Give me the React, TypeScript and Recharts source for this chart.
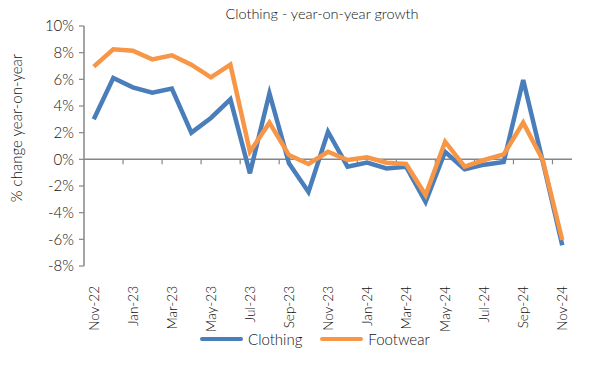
import React from 'react';
import { LineChart, Line, XAxis, YAxis, ReferenceLine } from 'recharts';

const months = ['Nov-22','Dec-22','Jan-23','Feb-23','Mar-23','Apr-23','May-23','Jun-23','Jul-23','Aug-23','Sep-23','Oct-23','Nov-23','Dec-23','Jan-24','Feb-24','Mar-24','Apr-24','May-24','Jun-24','Jul-24','Aug-24','Sep-24','Oct-24','Nov-24'];
const clothing = [3.0, 6.1, 5.4, 5.0, 5.3, 2.0, 3.1, 4.5, -1.05, 4.95, -0.3, -2.45, 2.07, -0.55, -0.25, -0.68, -0.55, -3.2, 0.57, -0.75, -0.4, -0.2, 5.95, -0.15, -6.45];
const footwear = [6.95, 8.25, 8.15, 7.5, 7.8, 7.1, 6.15, 7.1, 0.57, 2.75, 0.32, -0.35, 0.57, -0.05, 0.15, -0.25, -0.35, -2.68, 1.32, -0.55, -0.05, 0.37, 2.75, -0.05, -6.05];
const yTicks = [-8, -6, -4, -2, 0, 2, 4, 6, 8, 10];

const data = months.map((m, i) => ({ month: m, Clothing: clothing[i], Footwear: footwear[i] }));

const FONT = 'Lato, "Open Sans", sans-serif';
const AXIS = '#868686';
const BLUE = '#4A7EBB';
const ORANGE = '#F79646';
const TEXT = '#111';

const XTick = (props: any) => {
  const { x, y, payload } = props;
  return (
    <text
      x={x}
      y={y + 12}
      transform={`rotate(-90, ${x}, ${y + 12})`}
      textAnchor="end"
      dominantBaseline="central"
      fontFamily={FONT}
      fontSize={13.5}
      fontWeight={300}
      fill={TEXT}
    >
      {payload.value}
    </text>
  );
};

const ZeroLine = (p: any) => {
  const { x1, x2, y1 } = p;
  const bw = (x2 - x1) / months.length;
  const ticks: number[] = [];
  for (let i = 2; i < months.length; i += 2) ticks.push(x1 + i * bw);
  return (
    <g>
      <line x1={x1} x2={x2} y1={y1} y2={y1} stroke={AXIS} strokeWidth={1.5} />
      {ticks.map((tx, i) => (
        <line key={i} x1={tx} x2={tx} y1={y1} y2={y1 + 5} stroke={AXIS} strokeWidth={1.2} />
      ))}
    </g>
  );
};

const LegendItem = ({ color, label }: { color: string; label: string }) => (
  <div style={{ display: 'flex', alignItems: 'center', marginRight: 18 }}>
    <div style={{ width: 43, height: 4, background: color, borderRadius: 2, marginRight: 5 }} />
    <span style={{ fontFamily: FONT, fontSize: 15, fontWeight: 300, color: TEXT }}>{label}</span>
  </div>
);

export default function App() {
  return (
    <div style={{ position: 'relative', width: 600, height: 374, margin: -8, background: '#fff' }}>
      <div
        style={{
          position: 'absolute',
          top: 5,
          left: 0,
          width: 644,
          textAlign: 'center',
          fontFamily: FONT,
          fontSize: 14.5,
          fontWeight: 300,
          color: TEXT,
          whiteSpace: 'pre',
        }}
      >
        Clothing - year-on-year growth
      </div>
      <div
        style={{
          position: 'absolute',
          left: 16,
          top: 128,
          transform: 'translate(-50%, -50%) rotate(-90deg)',
          fontFamily: FONT,
          fontSize: 15,
          fontWeight: 300,
          color: TEXT,
          whiteSpace: 'nowrap',
        }}
      >
        % change year-on-year
      </div>
      <LineChart width={600} height={374} data={data} margin={{ top: 26, right: 28, left: 0, bottom: 52 }}>
        <XAxis
          dataKey="month"
          scale="band"
          interval={1}
          axisLine={false}
          tickLine={false}
          tick={<XTick />}
          height={56}
        />
        <YAxis
          domain={[-8, 10]}
          ticks={yTicks}
          width={84}
          axisLine={{ stroke: AXIS, strokeWidth: 1.5 }}
          tickLine={{ stroke: AXIS, strokeWidth: 1.2 }}
          tickSize={5}
          tickMargin={5}
          tickFormatter={(v: number) => `${v}%`}
          tick={{ fontFamily: FONT, fontSize: 15, fontWeight: 300, fill: TEXT }}
        />
        <ReferenceLine y={0} shape={<ZeroLine />} />
        <Line type="linear" dataKey="Clothing" stroke={BLUE} strokeWidth={4.5} dot={false} isAnimationActive={false} />
        <Line type="linear" dataKey="Footwear" stroke={ORANGE} strokeWidth={4.5} dot={false} isAnimationActive={false} />
      </LineChart>
      <div style={{ position: 'absolute', top: 330, left: 200, display: 'flex' }}>
        <LegendItem color={BLUE} label="Clothing" />
        <LegendItem color={ORANGE} label="Footwear" />
      </div>
    </div>
  );
}
